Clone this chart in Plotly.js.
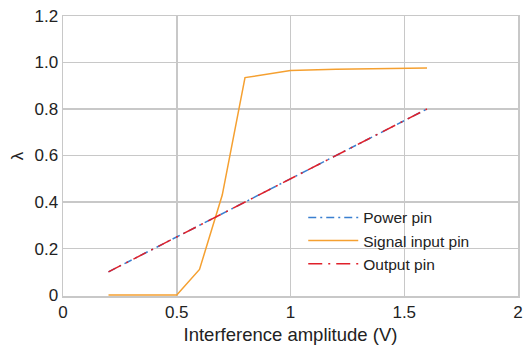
<!DOCTYPE html>
<html><head><meta charset="utf-8">
<script src="https://cdn.plot.ly/plotly-3.0.1.min.js"></script>
<style>body{margin:0;background:#fff}#c{width:528px;height:345px}</style>
</head><body><div id="c"></div>
<script>
const xLin = [0.2, 0.4, 0.6, 0.8, 1.0, 1.2, 1.4, 1.6];
const powerPin = [0.1, 0.2, 0.3, 0.4, 0.5, 0.6, 0.7, 0.8];
const outputPin = [0.1, 0.2, 0.3, 0.4, 0.5, 0.6, 0.7, 0.8];
const xSig = [0.2, 0.5, 0.6, 0.7, 0.8, 1.0, 1.2, 1.4, 1.6];
const signalPin = [0, 0, 0.11, 0.43, 0.935, 0.966, 0.971, 0.975, 0.976];
const yTickVals = [0, 0.2, 0.4, 0.6, 0.8, 1.0, 1.2];
const yTickText = ['0', '0.2', '0.4', '0.6', '0.8', '1.0', '1.2'];
const xTickVals = [0, 0.5, 1, 1.5, 2];
const xTickText = ['0', '0.5', '1', '1.5', '2'];

const traces = [
  {x: xLin, y: powerPin, name: 'Power pin', mode: 'lines',
   line: {color: '#3a7fd0', width: 1.5, dash: '8px,4px,2px,4px'}},
  {x: xSig, y: signalPin, name: 'Signal input pin', mode: 'lines',
   line: {color: '#f5a030', width: 1.5}},
  {x: xLin, y: outputPin, name: 'Output pin', mode: 'lines',
   line: {color: '#e0202a', width: 1.5, dash: '14px,6px,2px,6px'}}
];
const grid = '#c8c8c8';
const layout = {
  width: 528, height: 345,
  margin: {l: 63, r: 10, t: 16, b: 49},
  paper_bgcolor: '#fff', plot_bgcolor: '#fff',
  font: {family: 'Liberation Sans, Arial, sans-serif', size: 17, color: '#222'},
  showlegend: true,
  legend: {x: 0.528, y: 0.34, xanchor: 'left', yanchor: 'top', bgcolor: 'rgba(0,0,0,0)',
           font: {size: 15.5, color: '#222'}, tracegroupgap: 0, itemwidth: 50},
  xaxis: {range: [0, 2], tickvals: xTickVals, ticktext: xTickText,
          showgrid: true, gridcolor: grid, gridwidth: 1.5, layer: 'below traces',
          showline: true, linecolor: grid, linewidth: 1.5, mirror: true,
          zeroline: false, ticks: '', ticklen: 0,
          title: {text: 'Interference amplitude (V)', font: {size: 18.5}, standoff: 7}},
  yaxis: {range: [-0.004, 1.2], tickvals: yTickVals, ticktext: yTickText,
          showgrid: true, gridcolor: grid, gridwidth: 1.5, layer: 'below traces',
          showline: true, linecolor: grid, linewidth: 1.5, mirror: true,
          zeroline: false, ticks: '',
          title: {text: 'λ', font: {size: 17}, standoff: 6}}
};
Plotly.newPlot('c', traces, layout, {displayModeBar: false, staticPlot: true});
</script></body></html>
